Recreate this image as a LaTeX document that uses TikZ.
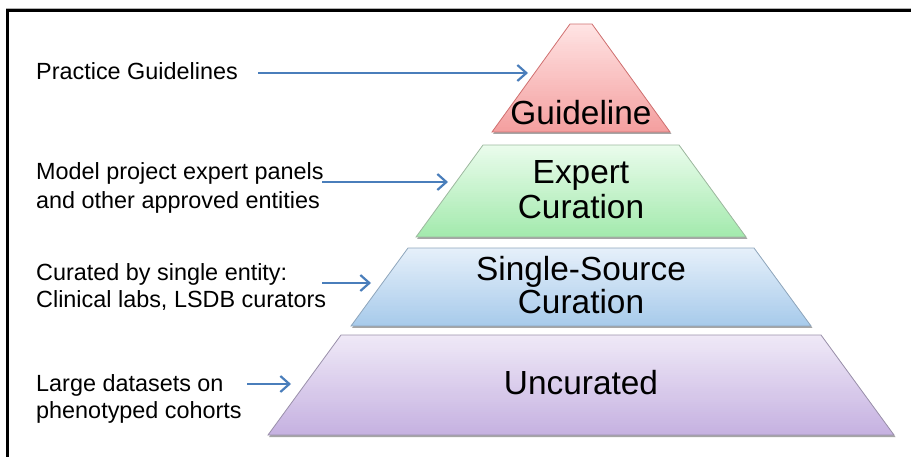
\documentclass[tikz,border=0pt]{standalone}
\usepackage{fontspec}
\setmainfont{Liberation Sans}
\usetikzlibrary{arrows.meta}

\definecolor{guideTop}{HTML}{FFE4E4}
\definecolor{guideBot}{HTML}{F4A0A0}
\definecolor{guideLine}{HTML}{D07070}
\definecolor{expertTop}{HTML}{EAFCEC}
\definecolor{expertBot}{HTML}{A4EAAE}
\definecolor{expertLine}{HTML}{9DB89F}
\definecolor{singleTop}{HTML}{E6F0FA}
\definecolor{singleBot}{HTML}{A8CBEB}
\definecolor{singleLine}{HTML}{8FA6BC}
\definecolor{uncurTop}{HTML}{EFE9F7}
\definecolor{uncurBot}{HTML}{C6B2E1}
\definecolor{uncurLine}{HTML}{9A90AA}
\definecolor{arrowblue}{HTML}{4A7EBB}

% one pyramid layer, centred on x = 581:
% #1 top depth, #2 bottom depth, #3 half width at top, #4 half width at bottom,
% #5 top colour, #6 bottom colour, #7 outline colour
\newcommand\gradlayer[7]{%
  \fill[layershadow] (581-#4+1,-#2-2) -- (581+#4+1.5,-#2-2)
        -- (581+#3+1.5,-#1-2) -- (581-#3+1,-#1-2) -- cycle;
  \begin{scope}
    \clip (581-#4,-#2) -- (581+#4,-#2) -- (581+#3,-#1) -- (581-#3,-#1) -- cycle;
    \foreach \band in {0,...,47} {
      \pgfmathtruncatemacro\mixpct{100*(1-\band/47)}
      \pgfmathsetmacro\bandtop{#1+(#2-#1)*\band/48}
      \pgfmathsetmacro\bandbot{#1+(#2-#1)*(\band+1)/48+0.7}
      \fill[#5!\mixpct!#6] (581-#4-2,-\bandtop) rectangle (581+#4+2,-\bandbot);
    }
  \end{scope}
  \draw[draw=#7, line width=0.8pt] (581-#4,-#2) -- (581+#4,-#2)
        -- (581+#3,-#1) -- (581-#3,-#1) -- cycle;
}

\begin{document}
\begin{tikzpicture}[x=1pt,y=1pt,
  layershadow/.style={fill=black!50, opacity=0.7},
  sidelabel/.style={anchor=base west, inner sep=0pt, font=\fontsize{23.4}{27}\selectfont},
  levellabel/.style={anchor=base, inner sep=0pt, font=\fontsize{33.4}{38}\selectfont},
  pointer/.style={draw=arrowblue, line width=2.2pt,
    -{Straight Barb[length=9pt,width=16pt]}}
]
\useasboundingbox (0,0) rectangle (911,-457);

% frame lines along the top and left
\draw[gray!60, line width=1pt] (6,-8.5) -- (911,-8.5);
\draw[black, line width=3pt] (6,-10.5) -- (911,-10.5);
\draw[black, line width=3pt] (7.5,-9) -- (7.5,-457);

% pyramid layers
\gradlayer{24}{132}{11}{89}{guideTop}{guideBot}{guideLine}
\gradlayer{145}{237}{98}{165}{expertTop}{expertBot}{expertLine}
\gradlayer{248}{326}{173}{230}{singleTop}{singleBot}{singleLine}
\gradlayer{335}{435}{240}{313}{uncurTop}{uncurBot}{uncurLine}

% level names
\node[levellabel] (guideline) at (581,-125) {Guideline};
\node[levellabel] (expert1) at (581,-184) {Expert};
\node[levellabel] (expert2) at (581,-219) {Curation};
\node[levellabel] (single1) at (581,-281) {Single-Source};
\node[levellabel] (single2) at (581,-313) {Curation};
\node[levellabel] (uncurated) at (581,-394) {Uncurated};

% descriptions on the left
\node[sidelabel] (practice) at (36,-80) {Practice Guidelines};
\node[sidelabel] (model1) at (36,-180) {Model project expert panels};
\node[sidelabel] (model2) at (36,-209) {and other approved entities};
\node[sidelabel] (curated1) at (36,-281) {Curated by single entity:};
\node[sidelabel] (curated2) at (36,-308) {Clinical labs, LSDB curators};
\node[sidelabel] (large1) at (36,-391) {Large datasets on};
\node[sidelabel] (large2) at (36,-418) {phenotyped cohorts};

% pointer ends
\coordinate (p1s) at (258,-73);  \coordinate (p1e) at (528,-73);
\coordinate (p2s) at (322,-182); \coordinate (p2e) at (448,-182);
\coordinate (p3s) at (322,-283); \coordinate (p3e) at (371,-283);
\coordinate (p4s) at (247,-384); \coordinate (p4e) at (291,-384);

\draw[pointer] (p1s) -- (p1e);
\draw[pointer] (p2s) -- (p2e);
\draw[pointer] (p3s) -- (p3e);
\draw[pointer] (p4s) -- (p4e);
\end{tikzpicture}
\end{document}
